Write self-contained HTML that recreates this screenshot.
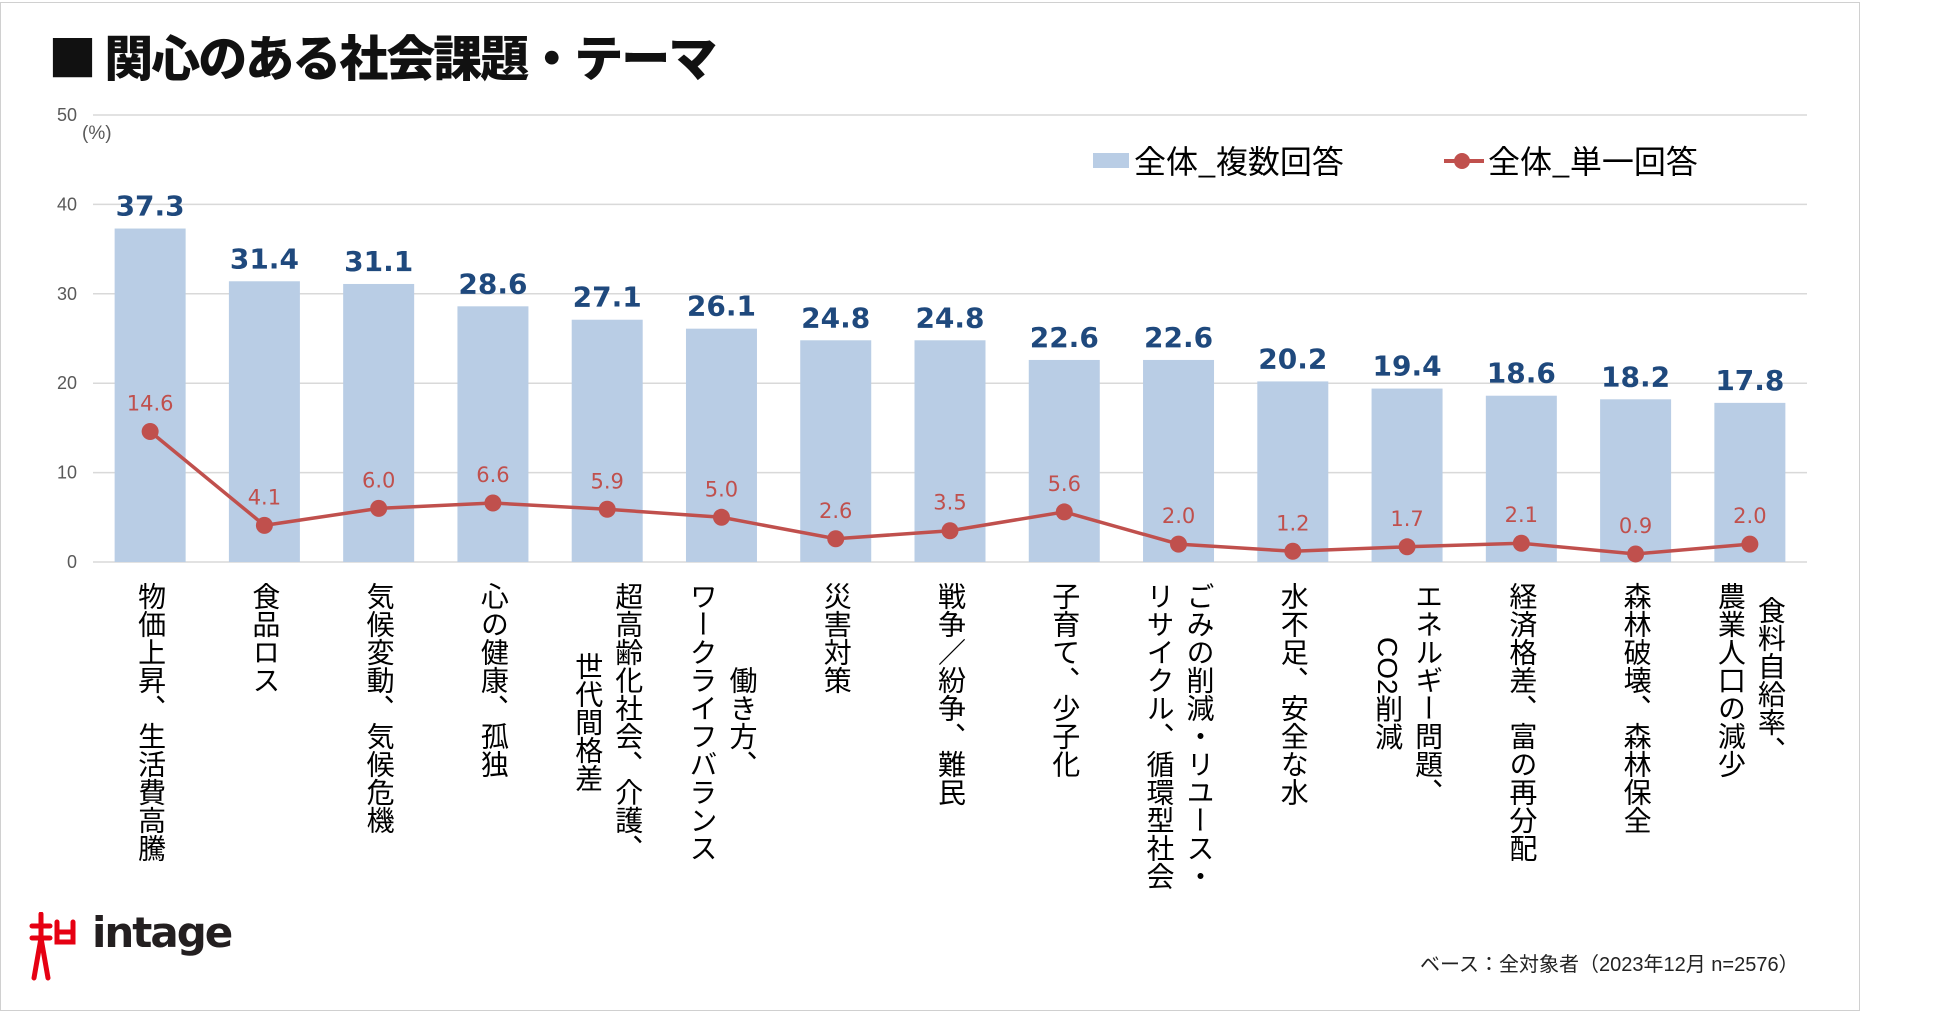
<!DOCTYPE html>
<html><head><meta charset="utf-8">
<style>
html,body{margin:0;padding:0;background:#fff;}
body{width:1950px;height:1013px;position:relative;overflow:hidden;font-family:"Liberation Sans","Noto Sans CJK JP",sans-serif;}
#frame{position:absolute;left:0;top:2px;width:1860px;height:1009px;border:1px solid #d0d0d0;box-sizing:border-box;}
#title{position:absolute;left:48px;top:20px;font-size:49px;font-weight:900;color:#111;font-family:"Noto Sans CJK JP",sans-serif;white-space:nowrap;letter-spacing:-2px;}
.xl{position:absolute;top:582px;writing-mode:vertical-rl;text-align:center;font-size:28px;line-height:40px;color:#000;font-family:"Liberation Sans","Noto Sans CJK JP",sans-serif;white-space:nowrap;}
#foot{position:absolute;left:1420px;top:948px;font-size:20px;color:#222;white-space:nowrap;font-family:"Liberation Sans","Noto Sans CJK JP",sans-serif;}
#logo-text{position:absolute;left:92px;top:908px;font-size:42px;font-weight:bold;color:#231f20;letter-spacing:-2px;font-family:"DejaVu Sans",sans-serif;}
</style></head>
<body>
<div id="frame"></div>
<div id="title">■ 関心のある社会課題・テーマ</div>
<svg id="chart" width="1950" height="1013" style="position:absolute;left:0;top:0"></svg>
<div id="labels"></div>
<div id="foot">ベース：全対象者（2023年12月 n=2576）</div>
<svg width="50" height="70" style="position:absolute;left:29px;top:912px">
<g stroke="#e60012" stroke-width="5" fill="none" stroke-linecap="round">
<line x1="12" y1="2" x2="12" y2="26"/><line x1="3" y1="14" x2="21" y2="14"/><line x1="3" y1="26" x2="21" y2="26"/>
<line x1="12" y1="26" x2="5" y2="66"/><line x1="12" y1="26" x2="19" y2="66"/>
<path d="M28 10 V30 H44 V10"/><line x1="28" y1="20" x2="44" y2="20"/></g></svg>
<div id="logo-text">intage</div>
<script>
const categories=[["物価上昇、生活費高騰"],["食品ロス"],["気候変動、気候危機"],["心の健康、孤独"],["超高齢化社会、介護、","世代間格差"],["働き方、","ワークライフバランス"],["災害対策"],["戦争／紛争、難民"],["子育て、少子化"],["ごみの削減・リユース・","リサイクル、循環型社会"],["水不足、安全な水"],["エネルギー問題、","CO2削減"],["経済格差、富の再分配"],["森林破壊、森林保全"],["食料自給率、","農業人口の減少"]];
const multiValues=[37.3,31.4,31.1,28.6,27.1,26.1,24.8,24.8,22.6,22.6,20.2,19.4,18.6,18.2,17.8];
const singleValues=[14.6,4.1,6.0,6.6,5.9,5.0,2.6,3.5,5.6,2.0,1.2,1.7,2.1,0.9,2.0];
const yTicks=[0,10,20,30,40,50];
const legendLabels=["全体_複数回答","全体_単一回答"];

const NS="http://www.w3.org/2000/svg";
const svg=document.getElementById('chart');
const X0=93,X1=1807,Y0=562,Y50=115;
const band=(X1-X0)/categories.length;
const xc=i=>X0+band*(i+0.5);
const y=v=>Y0-(v/50)*(Y0-Y50);
function mk(tag,attrs){const e=document.createElementNS(NS,tag);for(const k in attrs)e.setAttribute(k,attrs[k]);svg.appendChild(e);return e;}

yTicks.forEach(t=>{
  const g=mk('line',{x1:X0,x2:X1,y1:y(t),y2:y(t),stroke:'#d9d9d9','stroke-width':1.5});
  
  
  const tx=mk('text',{x:77,y:y(t)+6,'text-anchor':'end','font-size':18,fill:'#595959','font-family':'Liberation Sans, sans-serif'});
  tx.textContent=t;
  
  
});
const unit=mk('text',{x:82,y:139,'font-size':19,fill:'#595959','font-family':'Liberation Sans, sans-serif'});
unit.textContent='(%)';



const bw=71;
multiValues.forEach((v,i)=>{
  const r=mk('rect',{x:xc(i)-bw/2,y:y(v),width:bw,height:Y0-y(v),fill:'#b9cde5'});
  
  
  const t=mk('text',{x:xc(i),y:y(v)-13,'text-anchor':'middle','font-size':28,'font-weight':'bold',fill:'#1f497d','font-family':'DejaVu Sans, sans-serif'});
  t.textContent=v.toFixed(1);
  
  
});
const pts=singleValues.map((v,i)=>xc(i)+','+y(v)).join(' ');
const pl=mk('polyline',{points:pts,fill:'none',stroke:'#c0504d','stroke-width':3.5});


singleValues.forEach((v,i)=>{
  const c=mk('circle',{cx:xc(i),cy:y(v),r:8.5,fill:'#c0504d'});
  
  
  const t=mk('text',{x:xc(i),y:y(v)-21,'text-anchor':'middle','font-size':21,fill:'#c0504d','font-family':'DejaVu Sans, sans-serif'});
  t.textContent=v.toFixed(1);
  
  
});

// legend
const ls=mk('rect',{x:1093,y:153,width:36,height:15,fill:'#b9cde5'});


const lt1=mk('text',{x:1134,y:173,'font-size':32,fill:'#000','font-family':'Noto Sans CJK JP, sans-serif'});
lt1.textContent=legendLabels[0];


const ll=mk('line',{x1:1444,x2:1484,y1:161,y2:161,stroke:'#c0504d','stroke-width':4});


const lc=mk('circle',{cx:1462,cy:161,r:8,fill:'#c0504d'});


const lt2=mk('text',{x:1488,y:173,'font-size':32,fill:'#000','font-family':'Noto Sans CJK JP, sans-serif'});
lt2.textContent=legendLabels[1];



// x labels
const lw=document.getElementById('labels');
categories.forEach((lines,i)=>{
  const d=document.createElement('div');
  d.className='xl';
  d.innerHTML=lines.join('<br>');
  const w=lines.length*40;
  d.style.left=(xc(i)-w/2)+'px';
  d.style.width=w+'px';
  
  
  lw.appendChild(d);
});
</script>
</body></html>
